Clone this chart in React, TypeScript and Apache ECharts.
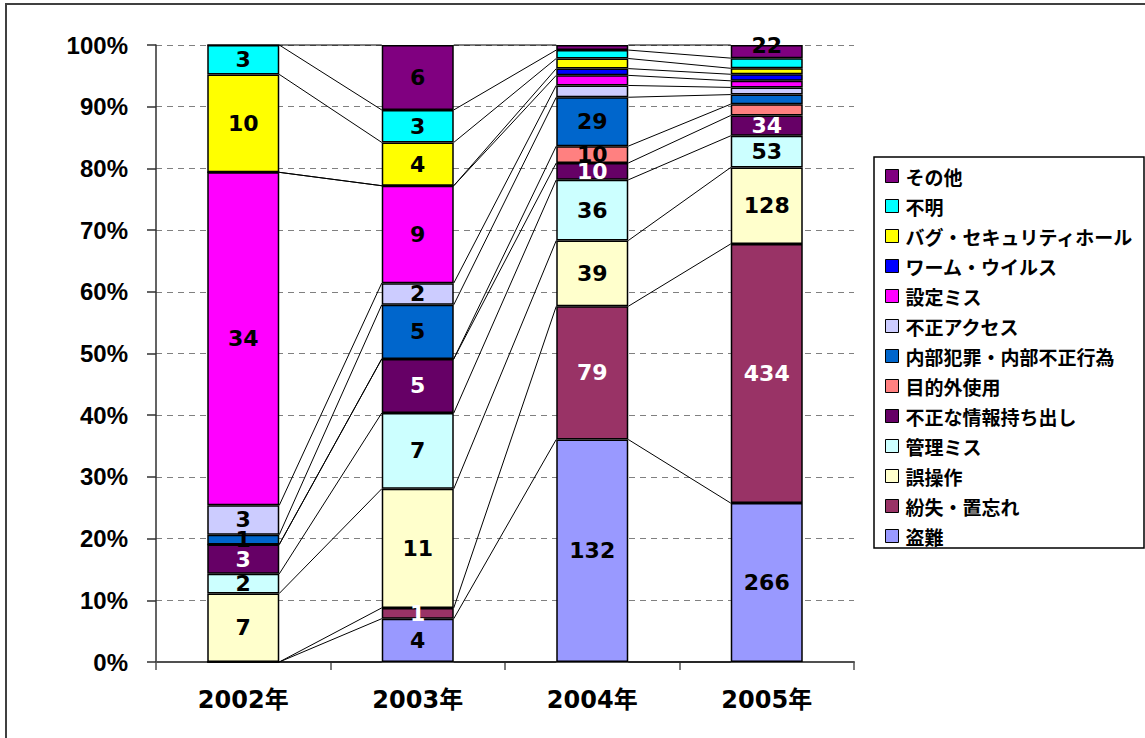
import React, { useEffect, useRef } from 'react';
import * as echarts from 'echarts';

const categories = ['2002年', '2003年', '2004年', '2005年'];
const seriesNames = [
  '盗難',
  '紛失・置忘れ',
  '誤操作',
  '管理ミス',
  '不正な情報持ち出し',
  '目的外使用',
  '内部犯罪・内部不正行為',
  '不正アクセス',
  '設定ミス',
  'ワーム・ウイルス',
  'バグ・セキュリティホール',
  '不明',
  'その他',
];
const touNan = [0, 4, 132, 266];
const funshitsu = [0, 1, 79, 434];
const gosousa = [7, 11, 39, 128];
const kanriMiss = [2, 7, 36, 53];
const mochidashi = [3, 5, 10, 34];
const mokutekigai = [0, 0, 10, 19];
const naibu = [1, 5, 29, 16];
const fuseiAccess = [3, 2, 7, 12];
const setteiMiss = [34, 9, 6, 11];
const worm = [0, 0, 4, 11];
const bug = [10, 4, 6, 10];
const fumei = [3, 3, 5, 17];
const sonota = [0, 6, 3, 22];
const values = [touNan, funshitsu, gosousa, kanriMiss, mochidashi, mokutekigai, naibu, fuseiAccess, setteiMiss, worm, bug, fumei, sonota];
const colors = ['#9999FF', '#993366', '#FFFFCC', '#CCFFFF', '#660066', '#FF8080', '#0066CC', '#CCCCFF', '#FF00FF', '#0000FF', '#FFFF00', '#00FFFF', '#800080'];
const yTicks = [0, 10, 20, 30, 40, 50, 60, 70, 80, 90, 100];

const whiteLabelSeries = [1, 4];
const labeledCount = [13, 13, 7, 5];

function showLabel(s: number, c: number) {
  if (values[s][c] <= 0) return false;
  if (s < labeledCount[c]) return true;
  return c === 3 && s === 12;
}

export default function App() {
  const ref = useRef<HTMLDivElement>(null);
  useEffect(() => {
    document.body.style.margin = '0';
    const chart = echarts.init(ref.current!, null, { renderer: 'svg' });
    const totals = categories.map((_, c) => values.reduce((sum, arr) => sum + arr[c], 0));
    const pct = values.map((arr) => arr.map((v, c) => (v / totals[c]) * 100));
    const cumTop = values.map((_, s) =>
      categories.map((_, c) => {
        let sum = 0;
        for (let k = 0; k <= s; k++) sum += pct[k][c];
        return Math.min(sum, 100);
      })
    );
    const lineData: number[][] = [];
    values.forEach((_, s) => {
      for (let c = 0; c < categories.length - 1; c++) {
        lineData.push([c, cumTop[s][c], cumTop[s][c + 1]]);
      }
    });
    for (let c = 0; c < categories.length - 1; c++) lineData.push([c, 0, 0]);

    const font = '"Liberation Sans", Arial, "Noto Sans CJK JP", sans-serif';
    const wideFont = '"DejaVu Sans", "Noto Sans CJK JP", sans-serif';
    const halfBar = 36;

    const barSeries = seriesNames.map((name, s) => ({
      type: 'bar',
      name,
      stack: 'total',
      barWidth: 72,
      z: 3,
      itemStyle: { color: colors[s], borderColor: '#000', borderWidth: 1.5 },
      label: {
        show: true,
        position: 'inside',
        formatter: (p: any) => String(values[s][p.dataIndex]),
        color: whiteLabelSeries.includes(s) ? '#fff' : '#000',
        fontSize: 22,
        fontWeight: 'bold',
        fontFamily: wideFont,
      },
      data: pct[s].map((v, c) => ({
        value: v,
        label: { show: showLabel(s, c), offset: c === 3 && s === 12 ? [0, -6] : [0, 0] },
      })),
    }));

    const option: any = {
      animation: false,
      backgroundColor: '#fff',
      grid: { left: 156, right: 291, top: 45, bottom: 76, containLabel: false },
      xAxis: {
        type: 'category',
        data: categories,
        axisLine: { lineStyle: { color: '#505050', width: 2 } },
        axisTick: { show: true, length: 8, lineStyle: { color: '#505050', width: 1.5 } },
        axisLabel: { fontSize: 24, fontWeight: 'bold', color: '#000', margin: 26, fontFamily: wideFont },
      },
      yAxis: {
        type: 'value',
        min: 0,
        max: 100,
        interval: 10,
        axisLine: { show: true, lineStyle: { color: '#303030', width: 1.5 } },
        axisTick: { show: true, length: 9, lineStyle: { color: '#303030', width: 1.5 } },
        axisLabel: {
          fontSize: 24,
          fontWeight: 'bold',
          color: '#000',
          margin: 28,
          fontFamily: font,
          formatter: (v: number) => (yTicks.includes(v) ? v + '%' : ''),
        },
        splitLine: { show: true, lineStyle: { color: '#808080', type: [6, 5], width: 1.2 } },
      },
      legend: {
        data: seriesNames.slice().reverse(),
        orient: 'vertical',
        left: 880,
        top: 161,
        itemWidth: 13,
        itemHeight: 13,
        itemGap: 10,
        icon: 'rect',
        itemStyle: { borderColor: '#000', borderWidth: 1 },
        textStyle: {
          fontSize: 19,
          lineHeight: 20,
          fontWeight: 'bold',
          color: '#000',
          fontFamily: '"Noto Sans CJK JP", sans-serif',
          padding: [0, 0, 0, 2],
        },
        selectedMode: false,
      },
      graphic: [
        {
          type: 'rect',
          shape: { x: 6, y: 4, width: 1300, height: 900 },
          style: { fill: 'none', stroke: '#404040', lineWidth: 2 },
          silent: true,
          z: 0,
        },
        {
          type: 'rect',
          shape: { x: 874, y: 157, width: 270, height: 391 },
          style: { fill: 'none', stroke: '#000', lineWidth: 1.5 },
          silent: true,
          z: 10,
        },
      ],
      series: [
        ...barSeries,
        {
          type: 'custom',
          name: 'series-lines',
          silent: true,
          z: 1,
          encode: { x: 0, y: [1, 2] },
          renderItem: (params: any, api: any) => {
            const c = api.value(0);
            const p1 = api.coord([c, api.value(1)]);
            const p2 = api.coord([c + 1, api.value(2)]);
            return {
              type: 'line',
              shape: { x1: p1[0] + halfBar, y1: p1[1], x2: p2[0] - halfBar, y2: p2[1] },
              style: { stroke: '#000', lineWidth: 1 },
            };
          },
          data: lineData,
        },
      ],
    };
    chart.setOption(option);
    return () => chart.dispose();
  }, []);
  return <div ref={ref} style={{ width: 1145, height: 738 }} />;
}
